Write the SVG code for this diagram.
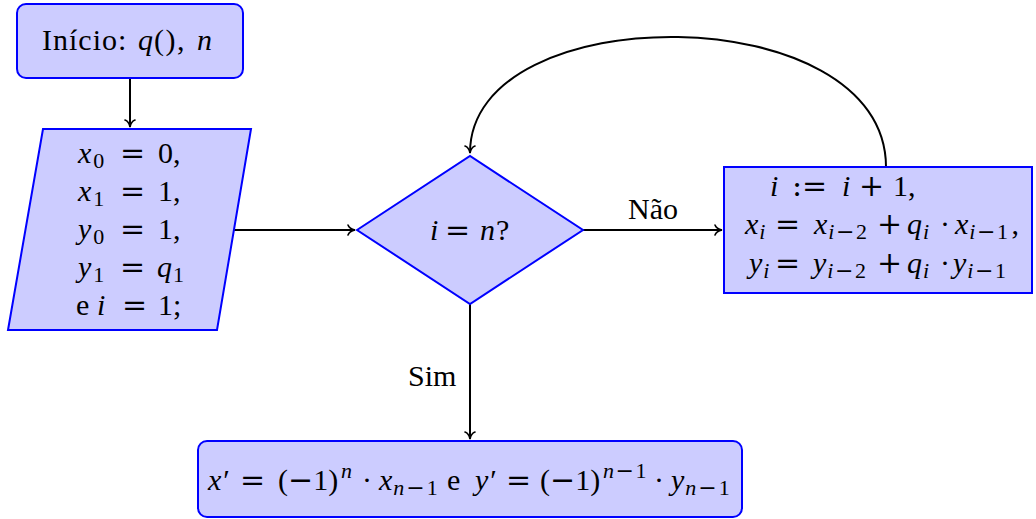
<svg xmlns="http://www.w3.org/2000/svg" width="1036" height="519" viewBox="0 0 1036 519">
<style>
.node{fill:#ccccff;stroke:#0000ff;stroke-width:2}
.t{font-family:"Liberation Serif","DejaVu Serif",serif;font-size:30px;fill:#000}
.i{font-style:italic}
.s{font-size:22px}
.op{font-family:"DejaVu Serif","Liberation Serif",serif}
.edge{fill:none;stroke:#000;stroke-width:2}
</style>
<defs>
<marker id="arr" markerUnits="userSpaceOnUse" markerWidth="16" markerHeight="16" viewBox="-9 -8 11 16" refX="0" refY="0" orient="auto">
<path d="M-7,-5 C-6,-2.2 -2.5,-0.5 0,0 C-2.5,0.5 -6,2.2 -7,5" fill="none" stroke="#000" stroke-width="1.6" stroke-linecap="round"/>
</marker>
</defs>
<rect width="1036" height="519" fill="#fff"/>
<g id="connectors">
<line class="edge" x1="130" y1="78" x2="130" y2="127" marker-end="url(#arr)"/>
<line class="edge" x1="232" y1="230" x2="355" y2="230" marker-end="url(#arr)"/>
<line class="edge" x1="583" y1="230" x2="722" y2="230" marker-end="url(#arr)"/>
<line class="edge" x1="470" y1="304" x2="470" y2="439" marker-end="url(#arr)"/>
<path class="edge" d="M886,167 C886,-4 470,-4 470,153" marker-end="url(#arr)"/>
<text class="t" x="628" y="219">Não</text>
<text class="t" x="408" y="386">Sim</text>
</g>
<g id="start">
<rect class="node" x="17" y="4" width="226" height="74" rx="9"/>
<text class="t" y="50"><tspan x="42" letter-spacing="1">Início:</tspan><tspan class="i" x="138">q</tspan><tspan dx="1" letter-spacing="1.5">(),</tspan><tspan class="i" x="197">n</tspan></text>
</g>
<g id="init">
<polygon class="node" points="43,129 251,129 217,330 8,330"/>
<text class="t" y="163"><tspan class="i" x="78">x</tspan><tspan class="s" dx="2" dy="5">0</tspan><tspan class="op" x="120" dy="-5">=</tspan><tspan x="158">0,</tspan></text>
<text class="t" y="201"><tspan class="i" x="78">x</tspan><tspan class="s" dx="2" dy="5">1</tspan><tspan class="op" x="120" dy="-5">=</tspan><tspan x="158">1,</tspan></text>
<text class="t" y="239"><tspan class="i" x="78">y</tspan><tspan class="s" dx="2" dy="5">0</tspan><tspan class="op" x="120" dy="-5">=</tspan><tspan x="158">1,</tspan></text>
<text class="t" y="277"><tspan class="i" x="78">y</tspan><tspan class="s" dx="2" dy="5">1</tspan><tspan class="op" x="120" dy="-5">=</tspan><tspan class="i" x="157">q</tspan><tspan class="s" dx="1" dy="5">1</tspan></text>
<text class="t" y="315"><tspan x="76">e</tspan><tspan class="i" x="97">i</tspan><tspan class="op" x="122">=</tspan><tspan x="158">1;</tspan></text>
</g>
<g id="decision">
<polygon class="node" points="357,230 470,156 583,230 470,304"/>
<text class="t" y="240"><tspan class="i" x="430">i</tspan><tspan class="op" x="445">=</tspan><tspan class="i" x="480">n</tspan><tspan x="496">?</tspan></text>
</g>
<g id="update">
<rect class="node" x="724" y="167" width="308" height="126"/>
<text class="t" y="196"><tspan class="i" x="770">i</tspan><tspan class="op" x="792">:=</tspan><tspan class="i" x="842">i</tspan><tspan class="op" x="859">+</tspan><tspan x="893">1,</tspan></text>
<text class="t" y="234"><tspan class="i" x="745">x</tspan><tspan class="s i" dx="1" dy="5">i</tspan><tspan class="op" x="775" dy="-5">=</tspan><tspan class="i" x="814">x</tspan><tspan class="s" dx="1" dy="5" letter-spacing="1.5"><tspan class="i">i</tspan><tspan class="op">−</tspan>2</tspan><tspan class="op" x="877" dy="-5">+</tspan><tspan class="i" x="907">q</tspan><tspan class="s i" dx="1" dy="5">i</tspan><tspan x="940" dy="-5">·</tspan><tspan class="i" x="955">x</tspan><tspan class="s" dx="1" dy="5" letter-spacing="1.5"><tspan class="i">i</tspan><tspan class="op">−</tspan>1</tspan><tspan dx="2" dy="-5">,</tspan></text>
<text class="t" y="273"><tspan class="i" x="749">y</tspan><tspan class="s i" dx="1" dy="5">i</tspan><tspan class="op" x="775" dy="-5">=</tspan><tspan class="i" x="813">y</tspan><tspan class="s" dx="1" dy="5" letter-spacing="1.5"><tspan class="i">i</tspan><tspan class="op">−</tspan>2</tspan><tspan class="op" x="877" dy="-5">+</tspan><tspan class="i" x="907">q</tspan><tspan class="s i" dx="1" dy="5">i</tspan><tspan x="940" dy="-5">·</tspan><tspan class="i" x="953">y</tspan><tspan class="s" dx="1" dy="5" letter-spacing="1.5"><tspan class="i">i</tspan><tspan class="op">−</tspan>1</tspan></text>
</g>
<g id="result">
<rect class="node" x="198" y="441" width="544" height="76" rx="9"/>
<text class="t" y="490"><tspan class="i" x="208">x</tspan><tspan dx="2">′</tspan><tspan class="op" x="240">=</tspan><tspan x="278">(</tspan><tspan class="op">−</tspan>1)<tspan class="s i" x="341" dy="-12">n</tspan><tspan x="362" dy="12">·</tspan><tspan class="i" x="379">x</tspan><tspan class="s" dx="1" dy="5" letter-spacing="2"><tspan class="i">n</tspan><tspan class="op">−</tspan>1</tspan><tspan x="447" dy="-5">e</tspan><tspan class="i" x="475">y</tspan><tspan dx="2">′</tspan><tspan class="op" x="506">=</tspan><tspan x="540">(</tspan><tspan class="op">−</tspan>1)<tspan class="s" x="603" dy="-12" letter-spacing="1.5"><tspan class="i">n</tspan><tspan class="op">−</tspan>1</tspan><tspan x="654" dy="12">·</tspan><tspan class="i" x="671">y</tspan><tspan class="s" dx="1" dy="5" letter-spacing="2"><tspan class="i">n</tspan><tspan class="op">−</tspan>1</tspan></text>
</g>
</svg>
